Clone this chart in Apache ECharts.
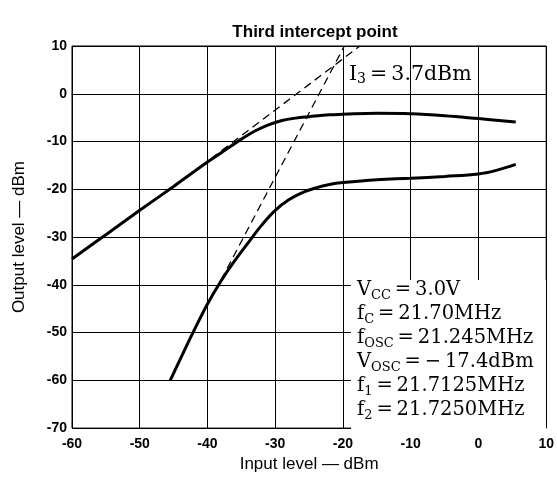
<!DOCTYPE html>
<html>
<head>
<meta charset="utf-8">
<script src="https://cdn.jsdelivr.net/npm/echarts@6/dist/echarts.min.js"></script>
<style>html,body{margin:0;padding:0;background:#fff}#c{width:557px;height:478px}</style>
</head>
<body>
<div id="c"></div>
<script>
// Fundamental output curve
const fundIn  = [-60,-55,-50,-45,-40,-37,-35,-33,-31,-29,-27,-25,-22,-20,-15,-10,-5,0,5.5];
const fundOut = [-34.6,-29.5,-24.4,-19.4,-14.3,-11.4,-9.5,-7.8,-6.5,-5.6,-5.1,-4.8,-4.4,-4.3,-4.1,-4.2,-4.6,-5.2,-5.9];
// Third-order intermod curve
const im3In  = [-45.5,-44,-42,-40,-38,-36,-34,-32,-30,-28,-26,-24,-22,-20,-15,-10,-5,0,2.5,5.5];
const im3Out = [-60,-55.5,-49.6,-44,-39.2,-35,-31.2,-27.5,-24.4,-22.2,-20.7,-19.7,-19.0,-18.6,-18.0,-17.7,-17.3,-16.8,-16.1,-14.8];
// Extrapolation (dashed) lines
const ext1In = [-41,-17.5];
const ext1Out = [-15.2,10];
const ext3In = [-38,-19.8];
const ext3Out = [-39,10];
// Axes
const xMin = -60, xMax = 10, yMin = -70, yMax = 10, step = 10;

const pairs = (a,b) => a.map((v,i)=>[v,b[i]]);
const chart = echarts.init(document.getElementById('c'), null, {renderer:'canvas'});
const sansBold = {fontFamily:'Liberation Sans', fontWeight:'bold', fontSize:14, color:'#000'};
const serif = 'DejaVu Serif';
const mkRich = (big, small) => ({
  n:{fontFamily:serif, fontSize:big, lineHeight:24, verticalAlign:'middle', color:'#000'},
  s:{fontFamily:serif, fontSize:small, lineHeight:24, verticalAlign:'bottom', color:'#000'}
});
const eq = '\u2009=\u2009';
chart.setOption({
  animation:false,
  backgroundColor:'#fff',
  title:{text:'Third intercept point', left:310, top:19, textAlign:'center',
    textStyle:{fontFamily:'Liberation Sans', fontWeight:'bold', fontSize:17, color:'#000'}},
  grid:{left:72, right:9, top:46, bottom:45, show:true, borderColor:'#000', borderWidth:1},
  xAxis:{type:'value', min:xMin, max:xMax, interval:step,
    name:'Input level — dBm', nameLocation:'middle', nameGap:23,
    nameTextStyle:{fontFamily:'Liberation Sans', fontSize:17, color:'#000'},
    axisLine:{lineStyle:{color:'#000', width:1}}, axisTick:{show:false},
    axisLabel:Object.assign({margin:9}, sansBold),
    splitLine:{lineStyle:{color:'#000', width:1}}},
  yAxis:{type:'value', min:yMin, max:yMax, interval:step,
    name:'Output level — dBm', nameLocation:'middle', nameGap:44,
    nameTextStyle:{fontFamily:'Liberation Sans', fontSize:17, color:'#000'},
    axisLine:{show:true, lineStyle:{color:'#000', width:1}}, axisTick:{show:false},
    axisLabel:Object.assign({margin:5}, sansBold),
    splitLine:{lineStyle:{color:'#000', width:1}}},
  graphic:[
    {type:'rect', z:1, shape:{x:351, y:280, width:195, height:151}, style:{fill:'#fff'}},
    {type:'text', z:5, left:349, top:64, style:{
      rich:mkRich(20.5,14), text:'{n|I}{s|3}{n|'+eq+'3.7dBm}'}},
    {type:'text', z:5, left:357, top:280, style:{
      rich:mkRich(19.5,13), text:[
        '{n|V}{s|CC}{n|'+eq+'3.0V}',
        '{n|f}{s|C}{n|'+eq+'21.70MHz}',
        '{n|f}{s|OSC}{n|'+eq+'21.245MHz}',
        '{n|V}{s|OSC}{n|'+eq+'−\u200917.4dBm}',
        '{n|f}{s|1}{n|'+eq+'21.7125MHz}',
        '{n|f}{s|2}{n|'+eq+'21.7250MHz}'
      ].join('\n')}}
  ],
  series:[
    {type:'line', data:pairs(fundIn,fundOut), smooth:0.4, symbol:'none', z:3,
      lineStyle:{color:'#000', width:3}},
    {type:'line', data:pairs(im3In,im3Out), smooth:0.4, symbol:'none', z:3,
      lineStyle:{color:'#000', width:3}},
    {type:'line', data:pairs(ext1In,ext1Out), symbol:'none', z:3,
      lineStyle:{color:'#000', width:1.3, type:[8,5]}},
    {type:'line', data:pairs(ext3In,ext3Out), symbol:'none', z:3,
      lineStyle:{color:'#000', width:1.3, type:[8,5]}}
  ]
});
</script>
</body>
</html>
